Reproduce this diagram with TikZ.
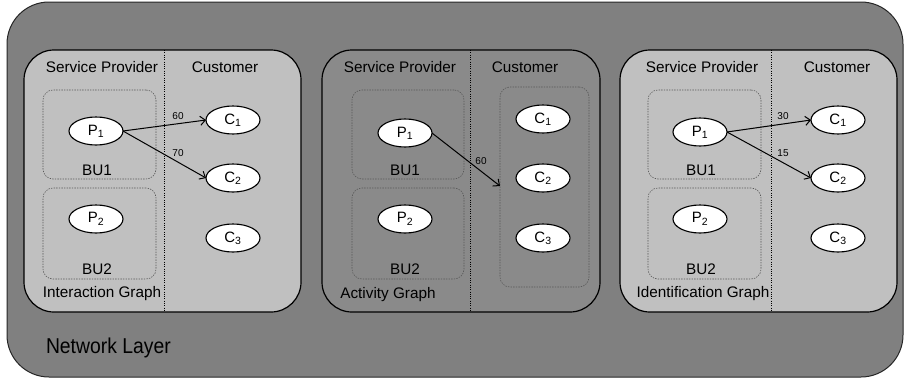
\documentclass[tikz,border=0pt]{standalone}
\usepackage{fontspec}
\setmainfont{Liberation Sans}
\usetikzlibrary{arrows.meta,shapes.geometric}
\definecolor{layergray}{HTML}{808080}
\definecolor{panellight}{HTML}{C0C0C0}
\definecolor{paneldark}{HTML}{8A8A8A}
\tikzset{
  every node/.style={inner sep=0pt, outer sep=0pt},
  layerbox/.style={draw=black!85, line width=1pt, fill=layergray, rounded corners=42pt},
  panelbox/.style={draw=black, line width=1.2pt, rounded corners=30pt},
  unitbox/.style={rectangle, draw=black!65, line width=0.6pt, dash pattern=on 1.4pt off 1.2pt, rounded corners=10pt},
  divider/.style={draw=black, line width=0.7pt, dash pattern=on 1pt off 1.3pt},
  entity/.style={ellipse, draw=black, line width=1.1pt, fill=white, minimum width=54pt, minimum height=28pt, font=\fontsize{15}{18}\selectfont},
  heading/.style={font=\fontsize{15.3}{18}\selectfont},
  weight/.style={font=\fontsize{10}{12}\selectfont},
  flow/.style={draw=black, line width=1pt, -{Straight Barb[length=5pt,width=9pt]}},
}
\begin{document}
\begin{tikzpicture}[x=1pt, y=-1pt]
\useasboundingbox (0,0) rectangle (905,380);

% network layer
\draw[layerbox] (7,2) rectangle (903,377);
\node[font=\fontsize{21.5}{24}\selectfont, anchor=west, xscale=0.9, transform shape] (netlabel) at (46,348) {Network Layer};

% ---------- interaction graph ----------
\draw[panelbox, fill=panellight] (24,50) rectangle (301,312);
\draw[divider] (164,50) -- (164,312);
\node[heading] (ia-sp) at (102,67) {Service Provider};
\node[heading] (ia-cu) at (225,67) {Customer};
\node[unitbox, minimum width=113pt, minimum height=89pt] (ia-bu1) at (99.5,134.5) {};
\node[unitbox, minimum width=113pt, minimum height=91pt] (ia-bu2) at (99.5,233.5) {};
\node[entity] (ia-p1) at (96,131) {P\textsubscript{1}};
\node[heading] (ia-bu1l) at (97,170) {BU1};
\node[entity] (ia-p2) at (96,219) {P\textsubscript{2}};
\node[heading] (ia-bu2l) at (97,269) {BU2};
\node[entity] (ia-c1) at (233,120) {C\textsubscript{1}};
\node[entity] (ia-c2) at (233,178) {C\textsubscript{2}};
\node[entity] (ia-c3) at (233,238) {C\textsubscript{3}};
\node[heading] (ia-name) at (102,294) {Interaction Graph};
\draw[flow] (ia-p1.east) -- (ia-c1.west);
\draw[flow] (ia-p1.east) -- (ia-c2.west);
\node[weight] (ia-w1) at (178,116) {60};
\node[weight] (ia-w2) at (178,153) {70};

% ---------- activity graph ----------
\draw[panelbox, fill=paneldark] (322,50) rectangle (600,312);
\draw[divider] (470,50) -- (470,312);
\node[heading] (ac-sp) at (400,67) {Service Provider};
\node[heading] (ac-cu) at (525,67) {Customer};
\node[unitbox, minimum width=112pt, minimum height=89pt] (ac-bu1) at (408,134.5) {};
\node[unitbox, minimum width=112pt, minimum height=91pt] (ac-bu2) at (408,233.5) {};
\node[unitbox, minimum width=89pt, minimum height=200pt] (ac-cbox) at (544.5,187) {};
\node[entity] (ac-p1) at (405,133) {P\textsubscript{1}};
\node[heading] (ac-bu1l) at (405,170) {BU1};
\node[entity] (ac-p2) at (405,219) {P\textsubscript{2}};
\node[heading] (ac-bu2l) at (405,269) {BU2};
\node[entity] (ac-c1) at (543,119) {C\textsubscript{1}};
\node[entity] (ac-c2) at (543,178) {C\textsubscript{2}};
\node[entity] (ac-c3) at (543,238) {C\textsubscript{3}};
\node[heading] (ac-name) at (388,295) {Activity Graph};
\coordinate (ac-in) at (ac-cbox.west |- 0,186);
\draw[flow] (ac-p1.east) -- (ac-in);
\node[weight] (ac-w1) at (481,161) {60};

% ---------- identification graph ----------
\draw[panelbox, fill=panellight] (620,50) rectangle (897,312);
\draw[divider] (771,50) -- (771,312);
\node[heading] (id-sp) at (702,67) {Service Provider};
\node[heading] (id-cu) at (837,67) {Customer};
\node[unitbox, minimum width=113pt, minimum height=89pt] (id-bu1) at (704.5,134.5) {};
\node[unitbox, minimum width=113pt, minimum height=91pt] (id-bu2) at (704.5,233.5) {};
\node[entity] (id-p1) at (700,132) {P\textsubscript{1}};
\node[heading] (id-bu1l) at (701,170) {BU1};
\node[entity] (id-p2) at (700,219) {P\textsubscript{2}};
\node[heading] (id-bu2l) at (701,269) {BU2};
\node[entity] (id-c1) at (838,120) {C\textsubscript{1}};
\node[entity] (id-c2) at (838,178) {C\textsubscript{2}};
\node[entity] (id-c3) at (838,238) {C\textsubscript{3}};
\node[heading] (id-name) at (703,294) {Identification Graph};
\draw[flow] (id-p1.east) -- (id-c1.west);
\draw[flow] (id-p1.east) -- (id-c2.west);
\node[weight] (id-w1) at (783,116) {30};
\node[weight] (id-w2) at (783,153) {15};
\end{tikzpicture}
\end{document}
